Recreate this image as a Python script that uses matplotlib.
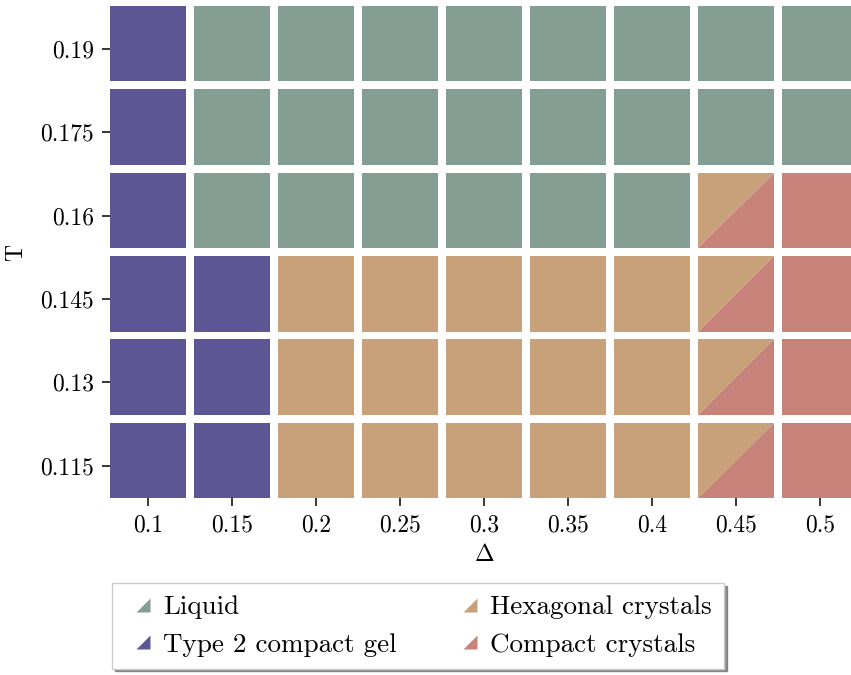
import matplotlib.pyplot as plt
from matplotlib.patches import Rectangle, Polygon
from matplotlib.lines import Line2D
from matplotlib.path import Path

plt.rcParams['font.family'] = 'serif'
plt.rcParams['font.serif'] = ['cmr10']
plt.rcParams['mathtext.fontset'] = 'cm'
plt.rcParams['axes.unicode_minus'] = False
plt.rcParams['axes.formatter.use_mathtext'] = True

# Diagramme de phases : Delta en abscisse, T en ordonnée
deltas = ['0.1', '0.15', '0.2', '0.25', '0.3', '0.35', '0.4', '0.45', '0.5']
temps = ['0.115', '0.13', '0.145', '0.16', '0.175', '0.19']

# G = gel compact type 2, L = liquide, H = cristaux hexagonaux,
# C = cristaux compacts, HC = coexistence H/C
phases = [
    ['G', 'G', 'H', 'H', 'H', 'H', 'H', 'HC', 'C'],  # T = 0.115
    ['G', 'G', 'H', 'H', 'H', 'H', 'H', 'HC', 'C'],  # T = 0.13
    ['G', 'G', 'H', 'H', 'H', 'H', 'H', 'HC', 'C'],  # T = 0.145
    ['G', 'L', 'L', 'L', 'L', 'L', 'L', 'HC', 'C'],  # T = 0.16
    ['G', 'L', 'L', 'L', 'L', 'L', 'L', 'L', 'L'],   # T = 0.175
    ['G', 'L', 'L', 'L', 'L', 'L', 'L', 'L', 'L'],   # T = 0.19
]

colors = {'L': '#849e93', 'G': '#5c5694', 'H': '#c8a07a', 'C': '#c7837a'}
labels = {'L': 'Liquid', 'G': 'Type 2 compact gel',
          'H': 'Hexagonal crystals', 'C': 'Compact crystals'}

fig = plt.figure(figsize=(8.51, 6.75), dpi=100)
ax = fig.add_axes([0.1293, 0.2618, 0.8795, 0.7293])

# demi-largeur / demi-hauteur des cases (unités de grille)
hw = 0.455
ylo, yhi = 0.39, 0.515

for j, row in enumerate(phases):
    for i, ph in enumerate(row):
        x0, x1 = i - hw, i + hw
        y0, y1 = j - ylo, j + yhi
        if ph == 'HC':
            ax.add_patch(Polygon([(x0, y0), (x0, y1), (x1, y1)], closed=True,
                                 facecolor=colors['H'], edgecolor='none'))
            ax.add_patch(Polygon([(x0, y0), (x1, y0), (x1, y1)], closed=True,
                                 facecolor=colors['C'], edgecolor='none'))
        else:
            ax.add_patch(Rectangle((x0, y0), x1 - x0, y1 - y0,
                                   facecolor=colors[ph], edgecolor='none'))

ax.set_xlim(-hw, len(deltas) - 1 + hw)
ax.set_ylim(-ylo, len(temps) - 1 + yhi)
ax.set_xticks(range(len(deltas)))
ax.set_xticklabels(deltas)
ax.set_yticks(range(len(temps)))
ax.set_yticklabels(temps)
ax.tick_params(labelsize=17, length=5.8, width=1.1, pad=6)
for s in ax.spines.values():
    s.set_visible(False)
ax.set_xlabel(r'$\Delta$', fontsize=17, labelpad=5)
ax.set_ylabel('T', fontsize=17, labelpad=9)

# marqueur triangulaire pour la légende
tri = Path([(-1, -1), (1, -1), (1, 1), (-1, -1)],
           [Path.MOVETO, Path.LINETO, Path.LINETO, Path.CLOSEPOLY])
handles = [Line2D([], [], linestyle='none', marker=tri, markersize=10,
                  markerfacecolor=colors[k], markeredgecolor='none',
                  label=labels[k]) for k in ['L', 'G', 'H', 'C']]
leg = fig.legend(handles=handles, ncol=2, loc='center',
                 bbox_to_anchor=(0.4912, 0.0726), fontsize=19.5,
                 fancybox=False, shadow={'color': '0.45', 'alpha': 0.8},
                 framealpha=1, edgecolor='#cccccc',
                 handlelength=1.4, handletextpad=0.05, columnspacing=2.0,
                 labelspacing=0.5, borderpad=0.44)

fig.savefig('out.png', dpi=100)
